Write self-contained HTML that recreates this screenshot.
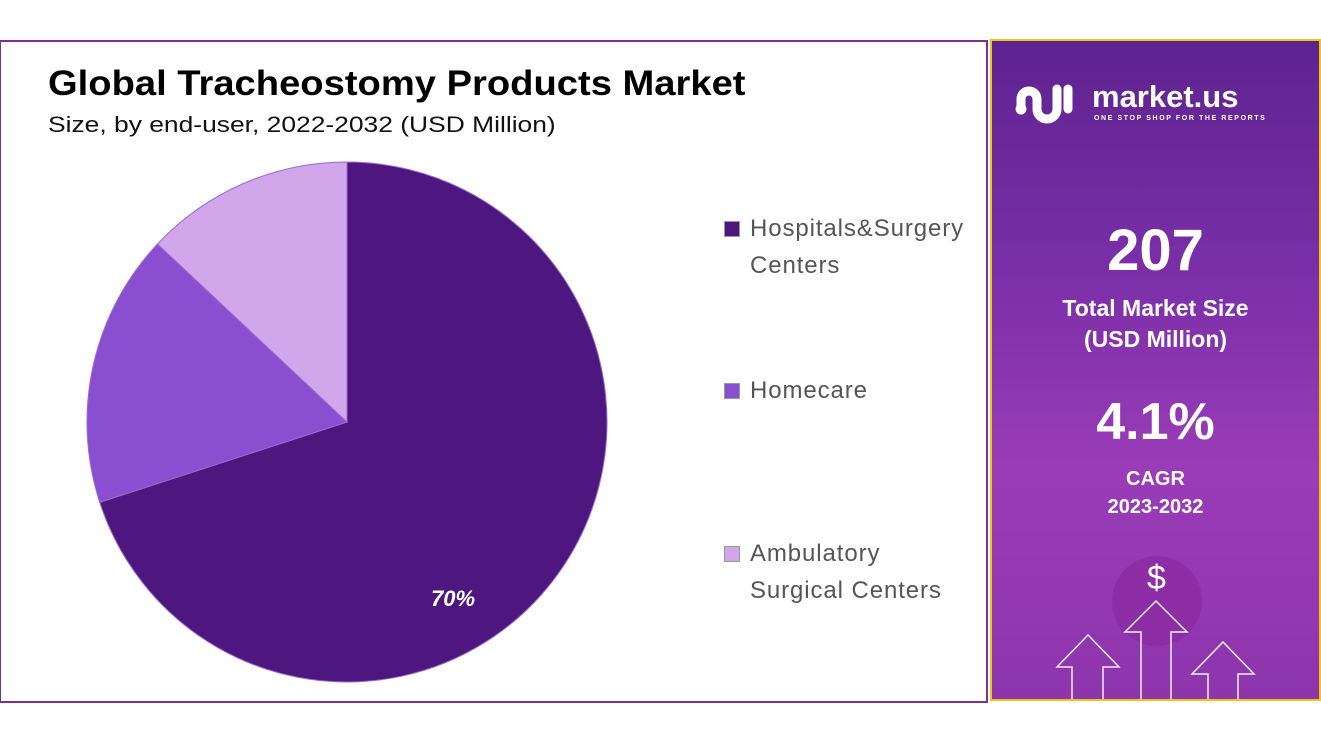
<!DOCTYPE html>
<html><head><meta charset="utf-8"><style>
body{margin:0;width:1321px;height:736px;background:#fff;position:relative;overflow:hidden;font-family:"Liberation Sans",sans-serif}
.abs{position:absolute}
</style></head><body>
<div class="abs" style="left:0;top:40px;width:985px;height:659px;border:2px solid #7a2fa0;border-left:1px solid #7a2fa0"></div>
<div class="abs" style="left:48px;top:64px;font-size:35px;font-weight:bold;color:#000;transform:scaleX(1.09);transform-origin:left top;white-space:nowrap">Global Tracheostomy Products Market</div>
<div class="abs" style="left:48px;top:112px;font-size:22px;color:#111;transform:scaleX(1.2);transform-origin:left top;white-space:nowrap">Size, by end-user, 2022-2032 (USD Million)</div>
<svg class="abs" style="left:0;top:0" width="990" height="736">
<g id="pie"></g>
</svg>
<div class="abs" style="left:724px;top:210px;font-size:24px;color:#555;line-height:37px;letter-spacing:0.9px">
<div style="position:absolute;top:0;left:0;width:260px"><span style="position:absolute;left:0;top:11px;width:14px;height:14px;background:#4e1780;border:1px solid #999"></span><span style="position:absolute;left:26px;white-space:nowrap">Hospitals&amp;Surgery<br>Centers</span></div>
<div style="position:absolute;top:162px;left:0"><span style="position:absolute;left:0;top:11px;width:14px;height:14px;background:#8a4fd0;border:1px solid #999"></span><span style="position:absolute;left:26px;white-space:nowrap">Homecare</span></div>
<div style="position:absolute;top:325px;left:0"><span style="position:absolute;left:0;top:11px;width:14px;height:14px;background:#d1a6ea;border:1px solid #999"></span><span style="position:absolute;left:26px;white-space:nowrap">Ambulatory<br>Surgical Centers</span></div>
</div>
<div class="abs" style="left:990px;top:39px;width:327px;height:658px;border:2px solid #f1c21b;background:linear-gradient(180deg,#5e2390 0%,#7a2fa8 35%,#9a3cb8 65%,#8d35ac 100%);overflow:hidden">
<svg width="327" height="658" style="position:absolute;left:0;top:0">
<circle cx="165" cy="560" r="45" fill="#8a2aa0" opacity="0.7"/>
<g fill="none" stroke="#eee" stroke-width="1.5">
<path d="M80 660V626H65L96 594L127 626H111V660"/>
<path d="M149 660V591H133L164 560L195 591H179V660"/>
<path d="M216 660V633H200L231 601L262 633H246V660"/>
</g>
<g fill="none" stroke="#fff" stroke-width="9" stroke-linecap="round">
<path d="M29 68V58A8 8 0 0 1 45 58V68A10 10 0 0 0 65 68V48"/>
<path d="M76 48V68"/>
<circle cx="29" cy="68" r="1" fill="#fff"/>
</g>
</svg>
<div style="position:absolute;left:155px;top:518px;color:#fff;font-size:34px">$</div>
<div style="position:absolute;left:24px;top:36px;color:#fff">
<span style="position:absolute;left:76px;top:2px;font-size:31px;font-weight:bold;white-space:nowrap">market.us</span>
<span style="position:absolute;left:78px;top:38px;font-size:7px;letter-spacing:1.6px;white-space:nowrap;font-weight:bold">ONE STOP SHOP FOR THE REPORTS</span>
</div>
<div style="position:absolute;left:0;width:327px;top:176px;text-align:center;color:#fff;font-size:58px;font-weight:bold">207</div>
<div style="position:absolute;left:0;width:327px;top:252px;text-align:center;color:#fff;font-size:23px;font-weight:bold;line-height:31px">Total Market Size<br>(USD Million)</div>
<div style="position:absolute;left:0;width:327px;top:351px;text-align:center;color:#fff;font-size:52px;font-weight:bold">4.1%</div>
<div style="position:absolute;left:0;width:327px;top:424px;text-align:center;color:#fff;font-size:20px;font-weight:bold;line-height:28px">CAGR<br>2023-2032</div>
</div>
<script>
const categories=["Hospitals&Surgery Centers","Homecare","Ambulatory Surgical Centers"];
const shares=[70,17,13];
const colors=["#4e1780","#8a4fd0","#d1a6ea"];
const labels=["70%","",""];
const cx=347,cy=422,r=260;
const g=document.getElementById('pie');
const total=shares.reduce((a,b)=>a+b,0);
let a0=0;
function pt(a,rr){return [cx+rr*Math.sin(a),cy-rr*Math.cos(a)];}
shares.forEach((v,i)=>{
  const a1=a0+v/total*2*Math.PI;
  const p0=pt(a0,r),p1=pt(a1,r);
  const large=(a1-a0)>Math.PI?1:0;
  const p=document.createElementNS('http://www.w3.org/2000/svg','path');
  p.setAttribute('d',`M${cx} ${cy}L${p0[0]} ${p0[1]}A${r} ${r} 0 ${large} 1 ${p1[0]} ${p1[1]}Z`);
  p.setAttribute('fill',colors[i]);
  p.setAttribute('stroke','#9a6ad0');
  p.setAttribute('stroke-width','1');
  
  
  g.appendChild(p);
  if(labels[i]){
    const m=(a0+a1)/2;const lp=pt(m+0.4,r*0.79);
    const t=document.createElementNS('http://www.w3.org/2000/svg','text');
    t.setAttribute('x',lp[0]);t.setAttribute('y',lp[1]+8);
    t.setAttribute('fill','#fff');t.setAttribute('font-size','22');
    t.setAttribute('font-weight','bold');t.setAttribute('font-style','italic');
    t.setAttribute('text-anchor','middle');
    
    
    t.textContent=labels[i];g.appendChild(t);
  }
  a0=a1;
});
</script>
</body></html>
